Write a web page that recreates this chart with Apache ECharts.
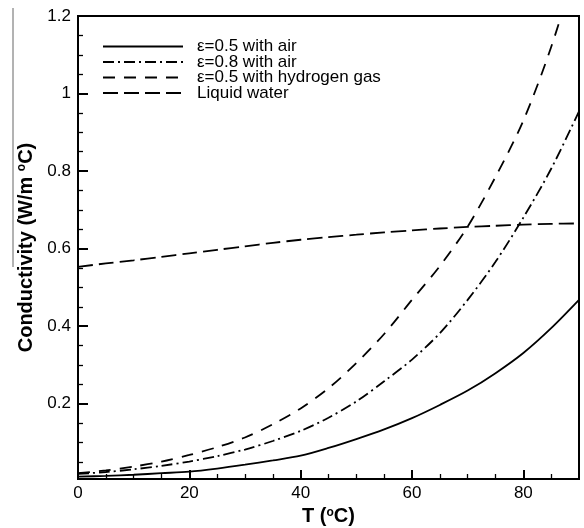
<!DOCTYPE html>
<html>
<head>
<meta charset="utf-8">
<script src="https://cdn.jsdelivr.net/npm/echarts@6/dist/echarts.min.js"></script>
<style>
html,body{margin:0;padding:0;background:#fff;}
#chart{width:584px;height:528px;}
</style>
</head>
<body>
<div id="chart"></div>
<script>
// ---- data ----
const temps = [0,5,10,15,20,25,30,35,40,45,50,55,60,65,70,75,80,85,90];
const eps05Air = [0.012,0.014,0.017,0.021,0.025,0.033,0.043,0.054,0.066,0.086,0.109,0.134,0.163,0.197,0.234,0.279,0.331,0.395,0.468];
const eps08Air = [0.019,0.024,0.031,0.040,0.051,0.065,0.082,0.104,0.130,0.164,0.206,0.258,0.314,0.382,0.468,0.566,0.680,0.806,0.954];
const eps05H2  = [0.021,0.028,0.038,0.051,0.068,0.088,0.113,0.147,0.188,0.240,0.305,0.380,0.468,0.555,0.657,0.785,0.930,1.120,1.350];
const water    = [0.553,0.562,0.570,0.579,0.588,0.597,0.606,0.615,0.623,0.630,0.636,0.642,0.647,0.652,0.656,0.659,0.662,0.664,0.665];
const seriesNames = ['ε=0.5 with air','ε=0.8 with air','ε=0.5 with hydrogen gas','Liquid water'];
const xMajorTicks = [0,20,40,60,80];
const xMinorTicks = [5,10,15,25,30,35,45,50,55,65,70,75,85];
const yMajorTicks = [0.2,0.4,0.6,0.8,1.0,1.2];
const yMinorTicks = [0.05,0.1,0.15,0.25,0.3,0.35,0.45,0.5,0.55,0.65,0.7,0.75,0.85,0.9,0.95,1.05,1.1,1.15];

const FONT = '"Liberation Sans", Arial, sans-serif';
function pairs(vals){ return temps.map((t,i)=>[t, vals[i]]); }

const chart = echarts.init(document.getElementById('chart'), null, {renderer:'canvas'});
const lineTypes = ['solid', [11,4,2,4], [12,9], [15,6]];
const valueSets = [eps05Air, eps08Air, eps05H2, water];

const option = {
  animation: false,
  backgroundColor: '#fff',
  grid: {left:78, right:5, top:16, bottom:49, show:true, borderColor:'#000', borderWidth:2,
         containLabel:false, outerBoundsMode:'none'},
  legend: {
    orient:'vertical', left:102, top:38, itemWidth:80, itemHeight:12, itemGap:-1.5, padding:0,
    data: seriesNames,
    itemStyle:{opacity:0},
    textStyle:{fontSize:17, color:'#000', fontFamily:FONT, lineHeight:15.5, padding:[0,0,0,9]}
  },
  xAxis: [{
    type:'value', min:0, max:90, position:'bottom',
    name:'T ({sup|o}C)', nameLocation:'middle', nameGap:27,
    nameTextStyle:{fontSize:20, fontWeight:'bold', color:'#000', fontFamily:FONT,
      rich:{sup:{fontSize:12, fontWeight:'bold', color:'#000', fontFamily:FONT, verticalAlign:'top', padding:[0,0,6,0]}}},
    axisLine:{show:true, lineStyle:{color:'#000', width:2}},
    axisTick:{show:true, inside:true, length:9, customValues:xMajorTicks, lineStyle:{color:'#000', width:2}},
    axisLabel:{customValues:xMajorTicks, fontSize:17, color:'#000', fontFamily:FONT, margin:6},
    splitLine:{show:false}
  },{
    type:'value', min:0, max:90, position:'bottom',
    axisLine:{show:false},
    axisTick:{show:true, inside:true, length:5, customValues:xMinorTicks, lineStyle:{color:'#000', width:1.3}},
    axisLabel:{show:false}, splitLine:{show:false}
  }],
  yAxis: [{
    type:'value', min:0.006, max:1.2, position:'left',
    name:'Conductivity (W/m {sup|o}C)', nameLocation:'middle', nameGap:42,
    nameTextStyle:{fontSize:20, fontWeight:'bold', color:'#000', fontFamily:FONT,
      rich:{sup:{fontSize:12, fontWeight:'bold', color:'#000', fontFamily:FONT, verticalAlign:'top', padding:[0,0,6,0]}}},
    axisLine:{show:true, lineStyle:{color:'#000', width:2}},
    axisTick:{show:true, inside:true, length:10, customValues:yMajorTicks, lineStyle:{color:'#000', width:2}},
    axisLabel:{customValues:yMajorTicks, fontSize:17, color:'#000', fontFamily:FONT, margin:7,
      formatter:function(v){ return String(Math.round(v*10)/10); }},
    splitLine:{show:false}
  },{
    type:'value', min:0.006, max:1.2, position:'left',
    axisLine:{show:false},
    axisTick:{show:true, inside:true, length:5, customValues:yMinorTicks, lineStyle:{color:'#000', width:1.3}},
    axisLabel:{show:false}, splitLine:{show:false}
  }],
  series: seriesNames.map((name,i)=>({
    name:name, type:'line', xAxisIndex:0, yAxisIndex:0,
    data: pairs(valueSets[i]), smooth:0.3, symbol:'none', symbolSize:0, clip:true,
    lineStyle:{color:'#000', width:1.8, type:lineTypes[i]},
    itemStyle:{color:'#000'}
  })),
  graphic: [{
    type:'line', shape:{x1:13, y1:8, x2:13, y2:267}, style:{stroke:'#666', lineWidth:1}, silent:true
  }]
};
chart.setOption(option);
</script>
</body>
</html>
